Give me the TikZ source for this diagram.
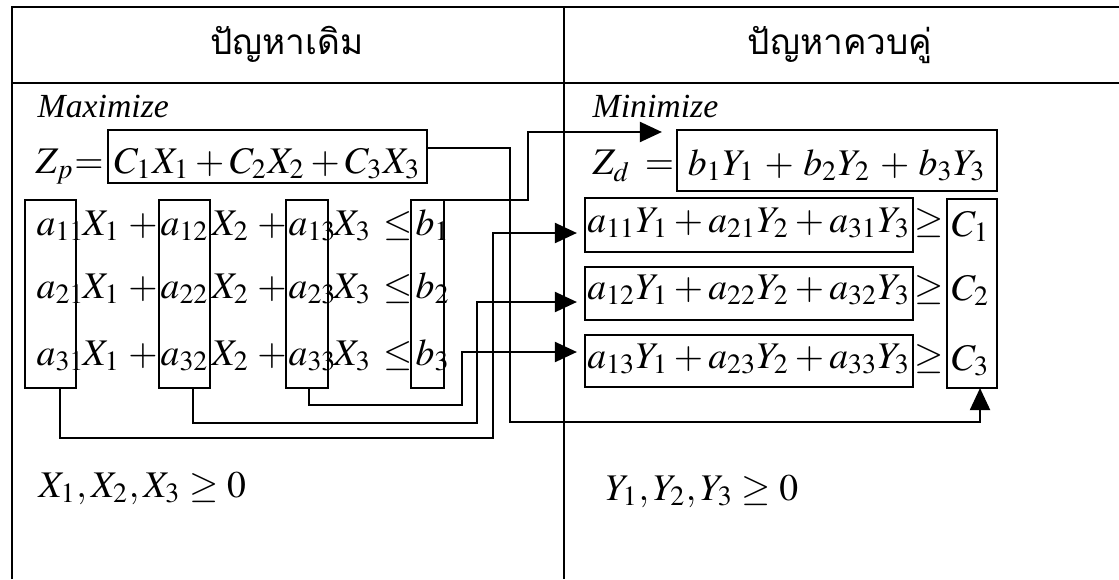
\documentclass[tikz,border=0pt]{standalone}
\usepackage{mathptmx}
\usepackage{fontspec}
\setmainfont{Liberation Serif}
\newfontfamily\thaifont[Script=Thai]{Loma}
\usetikzlibrary{arrows.meta}

\begin{document}
\begin{tikzpicture}[x=0.01cm,y=-0.01cm,
  box/.style={draw,line width=0.6pt,inner sep=0pt,outer sep=0pt,font=\fontsize{10.7}{13}\selectfont},
  txt/.style={inner sep=0pt,anchor=base west,font=\fontsize{10.7}{13}\selectfont},
  sym/.style={txt,anchor=base},
  head/.style={anchor=base,inner sep=0pt,font=\thaifont\fontsize{10}{12}\selectfont},
  word/.style={txt,font=\fontsize{9.6}{12}\selectfont\itshape},
  arr/.style={line width=0.6pt,-{Triangle[length=0.22cm,width=0.2cm]}}]
  \useasboundingbox (0,0) rectangle (1119,579);
  % frame
  \draw[line width=0.6pt] (12,579) -- (12,7) -- (1119,7);
  \draw[line width=0.6pt] (12,83) -- (1119,83);
  \draw[line width=0.5pt] (564,7) -- (564,579);
  \node[head] (hp) at (287,55) {ปัญหาเดิม};
  \node[head] (hd) at (840,55) {ปัญหาควบคู่};
  % primal
  \node[word] (maxi) at (37,117) {Maximize};
  \node[txt] (zp) at (35,173) {$Z_p{=}$};
  \node[box,minimum width=3.19cm,text height=0.43cm,text depth=0.10cm] (zpbox) at (267.5,156.5) {$C_1X_1 + C_2X_2 + C_3X_3$};
  \node[txt] (a11) at (36,235) {$a_{11}$}; \node[txt] (x11) at (82,235) {$X_1$}; \node[sym] (p11) at (143,235) {$+$};
  \node[txt] (a12) at (160,235) {$a_{12}$}; \node[txt] (x12) at (211,235) {$X_2$}; \node[sym] (p12) at (272,235) {$+$};
  \node[txt] (a13) at (288,235) {$a_{13}$}; \node[txt] (x13) at (333,235) {$X_3$}; \node[sym] (le1) at (398,235) {$\le$};
  \node[txt] (b1) at (415,235) {$b_1$};
  \node[txt] (a21) at (36,298) {$a_{21}$}; \node[txt] (x21) at (82,298) {$X_1$}; \node[sym] (p21) at (143,298) {$+$};
  \node[txt] (a22) at (160,298) {$a_{22}$}; \node[txt] (x22) at (211,298) {$X_2$}; \node[sym] (p22) at (272,298) {$+$};
  \node[txt] (a23) at (288,298) {$a_{23}$}; \node[txt] (x23) at (333,298) {$X_3$}; \node[sym] (le2) at (398,298) {$\le$};
  \node[txt] (b2) at (415,298) {$b_2$};
  \node[txt] (a31) at (36,365) {$a_{31}$}; \node[txt] (x31) at (82,365) {$X_1$}; \node[sym] (p31) at (143,365) {$+$};
  \node[txt] (a32) at (160,365) {$a_{32}$}; \node[txt] (x32) at (211,365) {$X_2$}; \node[sym] (p32) at (272,365) {$+$};
  \node[txt] (a33) at (288,365) {$a_{33}$}; \node[txt] (x33) at (333,365) {$X_3$}; \node[sym] (le3) at (398,365) {$\le$};
  \node[txt] (b3) at (415,365) {$b_3$};
  \node[box,minimum width=0.51cm,minimum height=1.88cm] (col1) at (50.5,294) {};
  \node[box,minimum width=0.51cm,minimum height=1.88cm] (col2) at (184.5,294) {};
  \node[box,minimum width=0.42cm,minimum height=1.88cm] (col3) at (307,294) {};
  \node[box,minimum width=0.33cm,minimum height=1.88cm] (bbox) at (427.5,294) {};
  \node[txt] (xpos) at (38,497) {$X_1, X_2, X_3 \ge 0$};
  % dual
  \node[word] (mini) at (592,117) {Minimize};
  \node[txt] (zd) at (592,175) {$Z_d\hspace{4pt}{=}$};
  \node[box,minimum width=3.20cm,text height=0.45cm,text depth=0.16cm] (zdbox) at (837,160.5) {$b_1Y_1 \,+\, b_2Y_2 \,+\, b_3Y_3$};
  \node[box,minimum width=3.28cm,text height=0.34cm,text depth=0.20cm] (r1) at (749,225) {$a_{11}Y_1 + a_{21}Y_2 + a_{31}Y_3$};
  \node[box,minimum width=3.28cm,text height=0.32cm,text depth=0.21cm] (r2) at (749,293.5) {$a_{12}Y_1 + a_{22}Y_2 + a_{32}Y_3$};
  \node[box,minimum width=3.28cm,text height=0.33cm,text depth=0.19cm] (r3) at (749,361) {$a_{13}Y_1 + a_{23}Y_2 + a_{33}Y_3$};
  \node[sym] (ge1) at (929,232) {$\ge$}; \node[txt] (c1) at (951,236) {$C_1$};
  \node[sym] (ge2) at (929,299) {$\ge$}; \node[txt] (c2) at (951,300) {$C_2$};
  \node[sym] (ge3) at (929,368) {$\ge$}; \node[txt] (c3) at (951,370) {$C_3$};
  \node[box,minimum width=0.50cm,minimum height=1.89cm] (cbox) at (972,293.5) {};
  \node[txt] (ypos) at (605,500) {$Y_1, Y_2, Y_3 \ge 0$};
  % connectors
  \draw[arr,shorten >=0.08cm] ([xshift=0.095cm]col1.south) |- (493,438) |- (r1.west |- 0,233);
  \draw[arr,shorten >=0.08cm] ([xshift=0.085cm]col2.south) |- (477,423) |- (r2.west |- 0,302);
  \draw[arr,shorten >=0.08cm] ([xshift=0.02cm]col3.south) |- (462,405) |- (r3.west |- 0,352);
  \draw[arr] (zpbox.east |- 0,148) -| (510,422) -| (cbox.south -| 980,0);
  \draw[arr,shorten >=0.15cm] (bbox.north east) -| (528,132) -- (zdbox.west |- 0,132);
\end{tikzpicture}
\end{document}
